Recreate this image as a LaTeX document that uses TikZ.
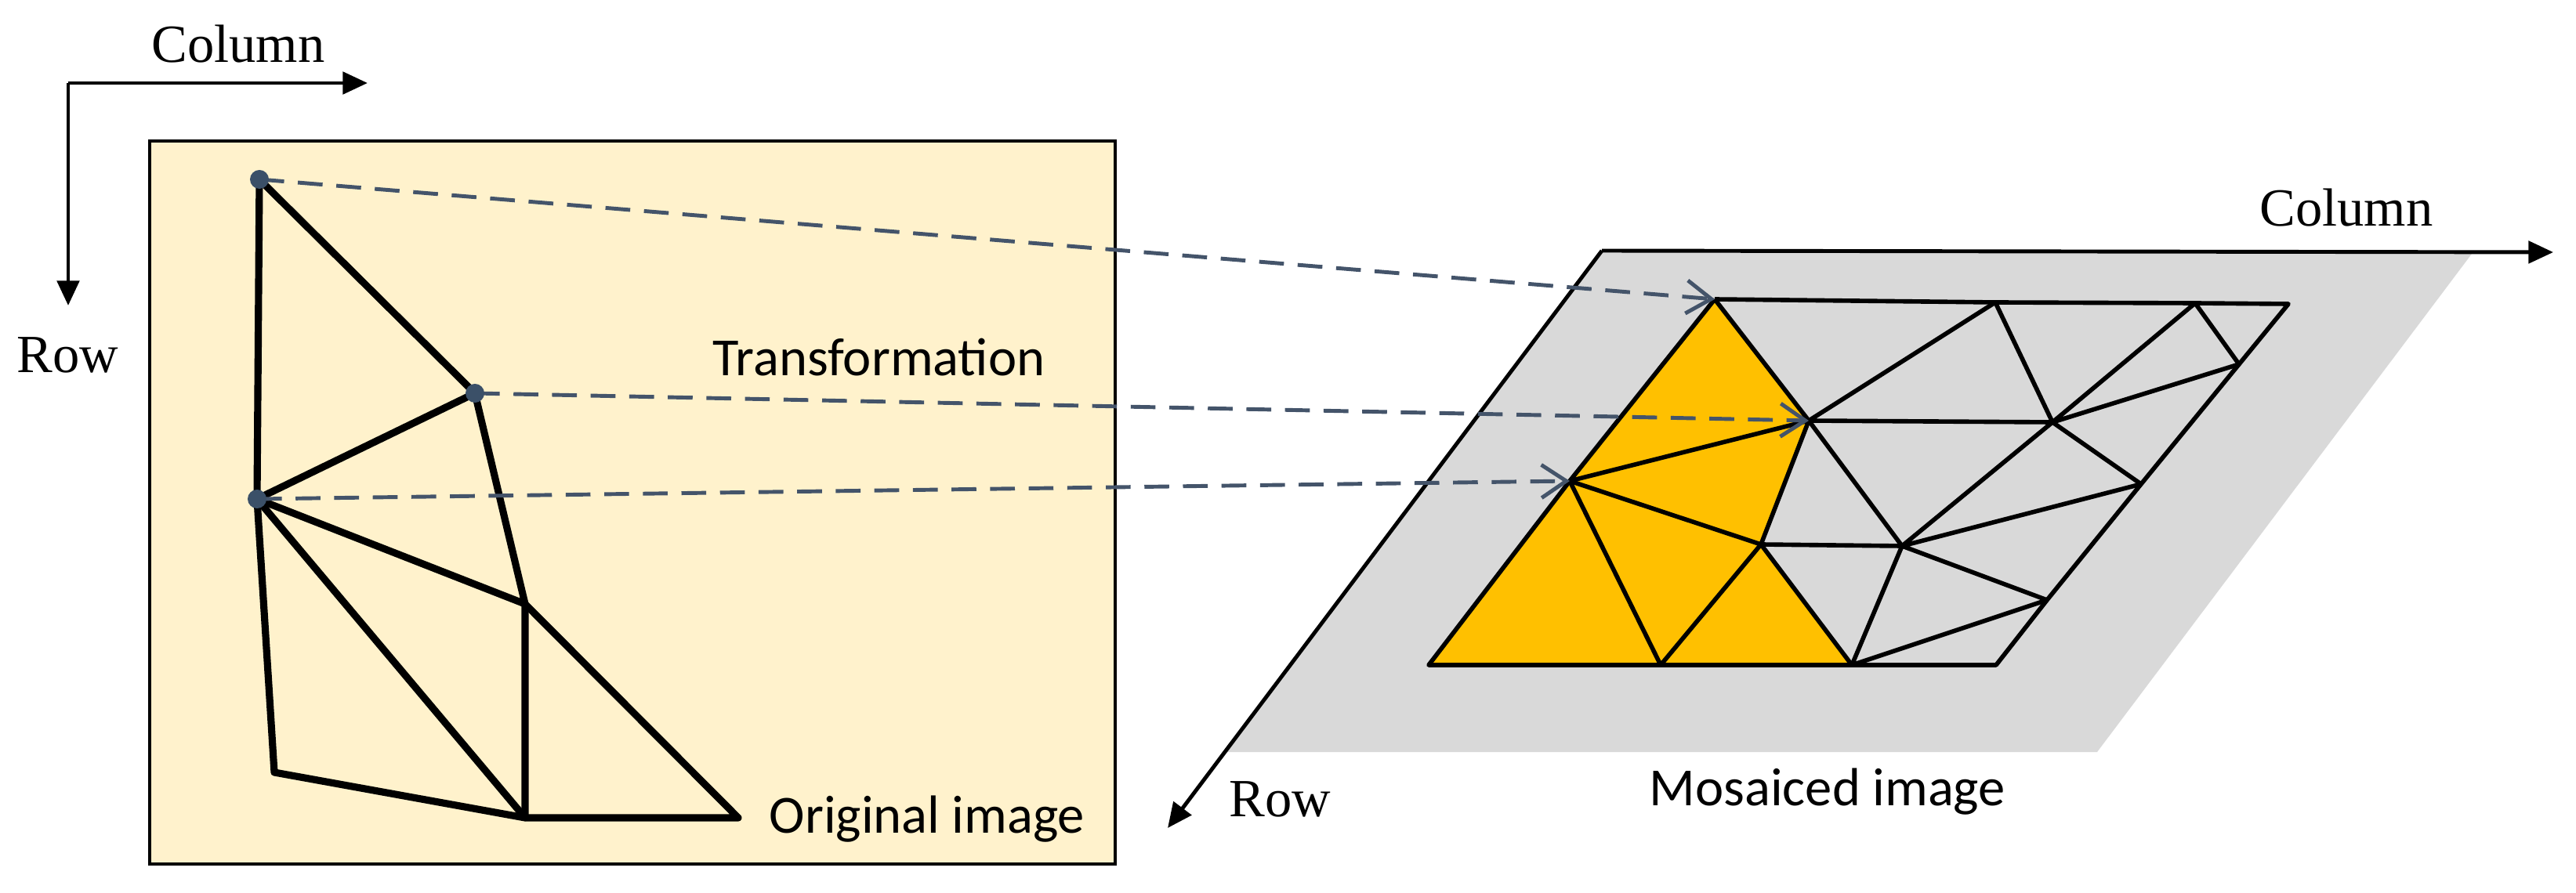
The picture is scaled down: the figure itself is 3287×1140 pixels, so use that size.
\documentclass[tikz,border=0pt]{standalone}
\usepackage{fontspec}
\setmainfont{Liberation Serif}
\newfontfamily\carlitofont{Carlito}
\usetikzlibrary{arrows.meta}
\definecolor{boxfill}{HTML}{FFF2CC}
\definecolor{planefill}{HTML}{D9D9D9}
\definecolor{yel}{HTML}{FFC000}
\definecolor{dashcol}{HTML}{44546A}
\definecolor{dotcol}{HTML}{3B5068}
\tikzset{
  axis/.style={line width=1.4pt,-{Triangle[length=9pt,width=8pt]}},
  lmesh/.style={line width=2.6pt,line join=round,line cap=round},
  rmesh/.style={line width=1.6pt,line join=round},
  trans/.style={draw=dashcol,line width=1.4pt,dash pattern=on 9pt off 5pt,-{Straight Barb[length=9pt,width=12pt]}},
  serif/.style={font=\fontsize{19.5}{22}\selectfont,inner sep=0pt},
  sans/.style={font=\carlitofont\fontsize{19.5}{22}\selectfont,inner sep=0pt},
}
\begin{document}
\begin{tikzpicture}[x=0.01cm,y=-0.01cm]
\useasboundingbox (0,0) rectangle (3287,1140);
% left axes
\coordinate (c0) at (87,106);
\coordinate (c1) at (469,106);
\coordinate (r1) at (87,390);
\draw[axis] (c0) -- (c1);
\draw[axis] (c0) -- (r1);
\node[serif,anchor=base] (colL) at (304,80) {Column};
\node[serif,anchor=base west] (rowL) at (21,476) {Row};
% original image box
\draw[fill=boxfill,line width=1.2pt] (191,180) rectangle (1423,1103);
\coordinate (P1) at (331,229);
\coordinate (P2) at (606,502);
\coordinate (P3) at (328,637);
\coordinate (P4) at (670,771);
\coordinate (P5) at (350,986);
\coordinate (P6) at (670,1044);
\coordinate (P7) at (942,1044);
\draw[lmesh] (P1) -- (P2) -- (P3) -- cycle;
\draw[lmesh] (P2) -- (P4) -- (P6) -- (P5) -- (P3) -- (P4);
\draw[lmesh] (P3) -- (P6) -- (P7) -- (P4);
\node[sans,anchor=base west] (orig) at (981,1063) {Original image};
% mosaiced plane
\coordinate (g1) at (2044,320);
\coordinate (g2) at (3157,320);
\coordinate (g3) at (2676,960);
\coordinate (g4) at (1563,960);
\fill[planefill] (g1) -- (g2) -- (g3) -- (g4) -- cycle;
\coordinate (cR) at (3258,322);
\coordinate (rR) at (1490,1057);
\draw[axis] (g1) -- (cR);
\draw[axis] (g1) -- (rR);
\node[serif,anchor=base] (colR) at (2994,289) {Column};
\node[serif,anchor=base west] (rowR) at (1568,1042) {Row};
\node[sans,anchor=base west] (mos) at (2104,1028) {Mosaiced image};
% right mesh vertices
\coordinate (A) at (2188,382);
\coordinate (B) at (2546,386);
\coordinate (C) at (2801,387);
\coordinate (D) at (2920,388);
\coordinate (E) at (2857,465);
\coordinate (F) at (2308,537);
\coordinate (G) at (2619,539);
\coordinate (H) at (2003,614);
\coordinate (I) at (2732,618);
\coordinate (J) at (2247,695);
\coordinate (K) at (2427,697);
\coordinate (L) at (2612,766);
\coordinate (M) at (1823,849);
\coordinate (N) at (2119,849);
\coordinate (O) at (2363,849);
\coordinate (Pp) at (2547,849);
\fill[yel] (M) -- (H) -- (A) -- (F) -- (J) -- (O) -- cycle;
\draw[rmesh] (A) -- (B) -- (C) -- (D) -- (E) -- (I) -- (L) -- (Pp) -- (O) -- (N) -- (M) -- (H) -- (A);
\draw[rmesh] (A) -- (F) -- (J) -- (O);
\draw[rmesh] (H) -- (F) -- (G);
\draw[rmesh] (H) -- (J) -- (K);
\draw[rmesh] (H) -- (N) -- (J);
\draw[rmesh] (F) -- (K) -- (O) -- (L) -- (K) -- (I) -- (G) -- (K);
\draw[rmesh] (F) -- (B) -- (G) -- (C) -- (E) -- (G);
% transformation arrows
\draw[trans] (P1) -- (A);
\draw[trans] (P2) -- (F);
\draw[trans] (P3) -- (H);
\foreach \p in {P1,P2,P3} \fill[dotcol] (\p) circle (0.12cm);
\node[sans,anchor=base west] (tr) at (909,480) {Transformation};
\end{tikzpicture}
\end{document}
